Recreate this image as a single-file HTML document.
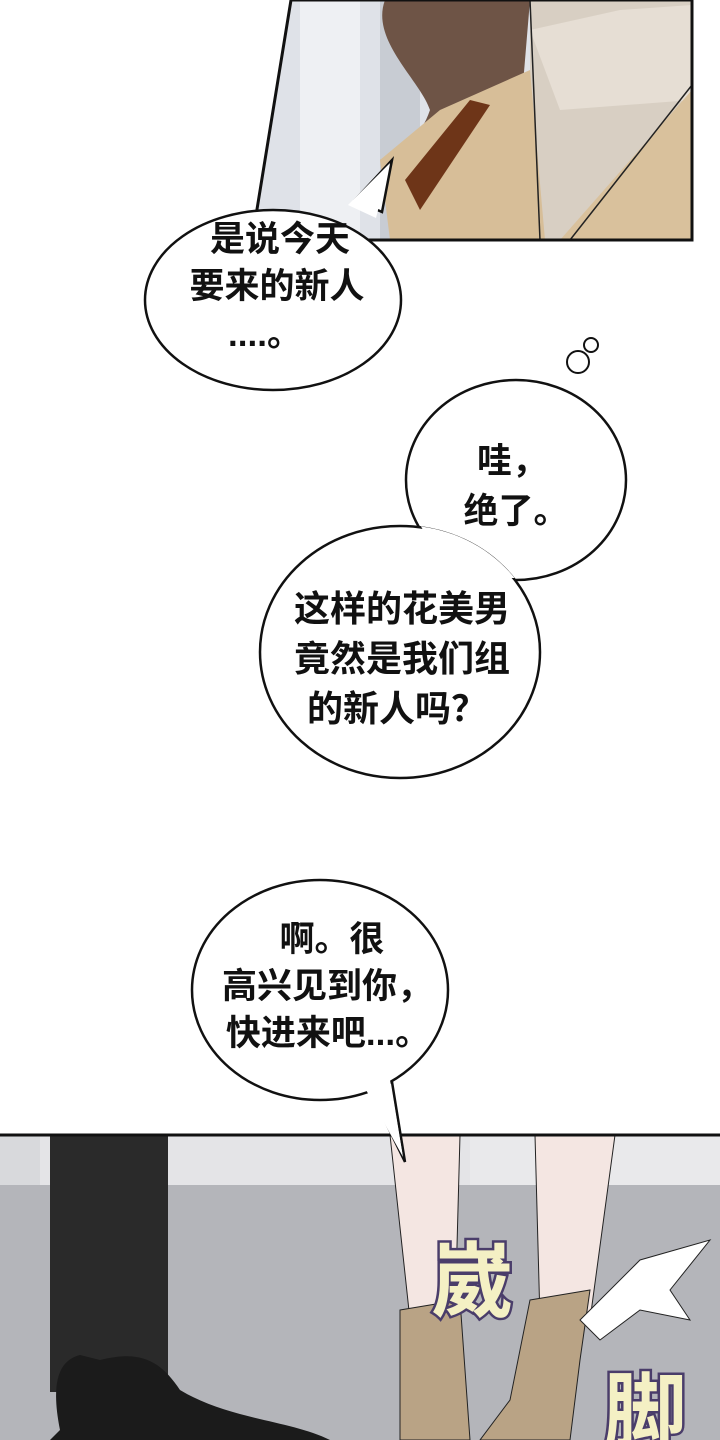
<!DOCTYPE html>
<html><head><meta charset="utf-8"><style>
html,body{margin:0;padding:0;background:#fff;}
svg{display:block;}
text{font-family:"Liberation Sans","Noto Sans CJK SC",sans-serif;font-weight:bold;fill:#111;}
</style></head><body>
<svg width="720" height="1440" viewBox="0 0 720 1440" xmlns="http://www.w3.org/2000/svg">
<rect width="720" height="1440" fill="#fff"/>
<clipPath id="tp"><polygon points="291,0 692,0 692,240 252,240"/></clipPath>
<g clip-path="url(#tp)">
<rect x="240" y="0" width="460" height="240" fill="#dfe2e8"/>
<rect x="300" y="0" width="60" height="240" fill="#eef0f3"/>
<rect x="380" y="0" width="40" height="240" fill="#c8ccd3"/>
<path d="M385,0 C370,40 420,80 430,110 C420,140 400,150 380,160 L420,190 L520,120 L530,0 Z" fill="#6e5446"/>
<path d="M530,0 L692,0 L692,240 L530,240 Z" fill="#d8cfc3"/>
<path d="M530,30 L620,10 L692,5 L692,100 L560,110 Z" fill="#e6ded4"/>
<path d="M380,160 L440,110 L530,70 L545,240 L390,240 Z" fill="#d7be98"/>
<path d="M405,180 L470,100 L490,105 L420,210 Z" fill="#6e3518"/>
<path d="M692,90 L560,240 L692,240 Z" fill="#d9c19c"/>
<path d="M530,0 L540,240" stroke="#222" stroke-width="1.5" fill="none"/>
<path d="M692,85 L570,240" stroke="#222" stroke-width="1.5" fill="none"/>
</g>
<polygon points="291,0 692,0 692,240 252,240" fill="none" stroke="#111" stroke-width="3"/>
<!-- bubble 1 -->
<path d="M355,200 L392,160 L382,212 Z" fill="#fff" stroke="#111" stroke-width="2.5"/>
<ellipse cx="273" cy="300" rx="128" ry="90" fill="#fff" stroke="#111" stroke-width="2.5"/>
<path d="M348,205 L390,163 L376,218 Z" fill="#fff"/>
<text x="280" y="251" font-size="35" text-anchor="middle">是说今天</text>
<text x="277" y="298" font-size="35" text-anchor="middle">要来的新人</text>
<text x="265" y="346" font-size="35" text-anchor="middle">....。</text>
<circle cx="578" cy="362" r="11" fill="#fff" stroke="#111" stroke-width="2"/>
<circle cx="591" cy="345" r="7" fill="#fff" stroke="#111" stroke-width="2"/>
<ellipse cx="516" cy="480" rx="110" ry="100" fill="#fff" stroke="#111" stroke-width="2.5"/>
<ellipse cx="400" cy="652" rx="140" ry="126" fill="#fff" stroke="#111" stroke-width="2.5"/>
<clipPath id="c3"><ellipse cx="400" cy="652" rx="141" ry="127"/></clipPath>
<ellipse cx="516" cy="480" rx="108" ry="98" fill="#fff" clip-path="url(#c3)"/>
<text x="512" y="473" font-size="35" text-anchor="middle">哇，</text>
<text x="516" y="523" font-size="35" text-anchor="middle">绝了。</text>
<text x="402" y="621" font-size="36" text-anchor="middle">这样的花美男</text>
<text x="402" y="671" font-size="36" text-anchor="middle">竟然是我们组</text>
<text x="397" y="721" font-size="36" text-anchor="middle">的新人吗？</text>
<clipPath id="bp"><rect x="0" y="1135" width="720" height="305"/></clipPath>
<g clip-path="url(#bp)">
<rect x="0" y="1135" width="720" height="305" fill="#b9babf"/>
<rect x="0" y="1135" width="720" height="50" fill="#e4e4e7"/>
<rect x="0" y="1135" width="40" height="130" fill="#d8d9dc"/>
<rect x="470" y="1135" width="250" height="110" fill="#e9e9eb"/>
<path d="M0,1185 L720,1185 L720,1440 L0,1440 Z" fill="#b4b5ba"/>
<path d="M50,1135 L168,1135 L168,1392 L50,1392 Z" fill="#2a2a2a"/>
<path d="M70,1390 L150,1390 L150,1440 L70,1440 Z" fill="#555"/>
<path d="M60,1430 C50,1380 60,1360 80,1355 L100,1360 C140,1350 160,1360 180,1390 C230,1420 290,1420 330,1440 L50,1440 Z" fill="#1b1b1b"/>
<path d="M390,1135 L460,1135 L455,1320 L410,1320 Z" fill="#f4e6e2" stroke="#222" stroke-width="1"/>
<path d="M535,1135 L615,1135 L590,1320 L540,1320 Z" fill="#f4e6e2" stroke="#222" stroke-width="1"/>
<path d="M400,1310 L460,1300 L470,1440 L400,1440 Z" fill="#b9a385" stroke="#222" stroke-width="1"/>
<path d="M530,1300 L590,1290 L580,1360 L570,1440 L480,1440 L510,1400 Z" fill="#b9a385" stroke="#222" stroke-width="1"/>
<path d="M580,1320 L640,1260 L710,1240 L670,1290 L690,1320 L640,1310 L600,1340 Z" fill="#fff" stroke="#222" stroke-width="1"/>
<text x="472" y="1310" font-size="82" text-anchor="middle" style="fill:#f4f0c4;stroke:#4a3d6a;stroke-width:5;paint-order:stroke;">崴</text>
<text x="645" y="1440" font-size="82" text-anchor="middle" style="fill:#f4f0c4;stroke:#4a3d6a;stroke-width:5;paint-order:stroke;">脚</text>
</g>
<line x1="0" y1="1135" x2="720" y2="1135" stroke="#111" stroke-width="3"/>
<path d="M370,1090 L405,1162 L392,1082 Z" fill="#fff" stroke="#111" stroke-width="2.5"/>
<ellipse cx="320" cy="990" rx="128" ry="110" fill="#fff" stroke="#111" stroke-width="2.5"/>
<path d="M365,1088 L403,1157 L390,1080 Z" fill="#fff"/>
<text x="332" y="951" font-size="35" text-anchor="middle">啊。很</text>
<text x="327" y="998" font-size="35" text-anchor="middle">高兴见到你，</text>
<text x="328" y="1045" font-size="35" text-anchor="middle">快进来吧...。</text>
</svg>
</body></html>
